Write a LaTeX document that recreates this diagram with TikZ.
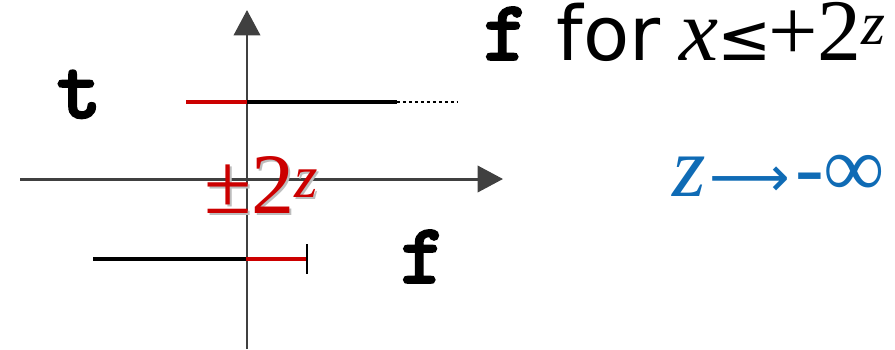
\documentclass[tikz,border=0pt]{standalone}
\usepackage{fontspec}
\setmainfont{Liberation Serif}
\setsansfont{DejaVu Sans}
\newfontfamily\arrowfont{DejaVu Sans}
\newfontfamily\codefont{lmmonolt10-bold}[Extension=.otf, FakeBold=2]
\usetikzlibrary{arrows.meta, positioning}
\definecolor{axisgray}{HTML}{404040}
\definecolor{boundred}{HTML}{CC0000}
\definecolor{limitblue}{HTML}{0F6BB5}
\definecolor{shadegray}{HTML}{BDBDBD}

\begin{document}
\begin{tikzpicture}[x=0.02cm, y=-0.02cm,
  axis/.style={draw=axisgray, line width=1.7pt,
               -{Triangle[length=14.5pt, width=15pt]}},
  ray/.style={line width=2.8pt},
  tail/.style={line width=1.1pt, dash pattern=on 1.7pt off 1.7pt},
  tick/.style={line width=1.1pt},
  bigtt/.style={inner sep=0pt, font=\codefont\fontsize{49}{55}\selectfont},
  bigrm/.style={inner sep=0pt, font=\fontsize{49}{54}\selectfont},
]
\useasboundingbox (0,0) rectangle (895,349);

% axes
\coordinate (ybot) at (247,349);
\coordinate (ytop) at (247,10);
\coordinate (xleft) at (20,179);
\coordinate (xright) at (503,179);
\draw[axis] (ybot) -- (ytop);
\draw[axis] (xleft) -- (xright);

% upper ray: t
\coordinate (ta) at (186,102);
\coordinate (tb) at (247,102);
\coordinate (tc) at (397,102);
\coordinate (td) at (458,102);
\draw[ray, boundred] (ta) -- (tb);
\draw[ray, black] (tb) -- (tc);
\draw[tail] (tc) -- (td);

% lower ray: f
\coordinate (fa) at (93,259);
\coordinate (fb) at (246,259);
\coordinate (fc) at (307,259);
\coordinate (fup) at (307,244);
\coordinate (fdn) at (307,274);
\draw[ray, black] (fa) -- (fb);
\draw[ray, boundred] (fb) -- (fc);
\draw[tick] (fup) -- (fdn);

% labels
\node[bigtt, anchor=base] (tlab) at (79,118) {t};
\node[bigtt, anchor=base] (flab) at (423,283) {f};
\node[bigrm, anchor=base west, text=shadegray] (boundshade) at (206,215) {±2\textsuperscript{\textit{z}}};
\node[bigrm, anchor=base west, text=boundred] (bound) at (204,213) {±2\textsuperscript{\textit{z}}};
\node[bigrm, anchor=base west, font=\fontsize{50}{55}\selectfont] (rule) at (483,60)
  {{\codefont\fontsize{49}{55}\selectfont f}\hspace{16pt}{\sffamily\fontsize{43}{48}\selectfont for}\hspace{11pt}\textit{x}\hspace{-1pt}{\arrowfont\fontsize{37}{42}\selectfont ≤}\hspace{-2pt}+2\textsuperscript{\textit{z}}};
\node[bigrm, anchor=base west, text=limitblue, font=\fontsize{49}{55}\selectfont] (limit) at (672,196)
  {\textit{z}\hspace{2pt}{\arrowfont\fontsize{32}{36}\selectfont ⟶}\hspace{3pt}-∞};
\end{tikzpicture}
\end{document}
